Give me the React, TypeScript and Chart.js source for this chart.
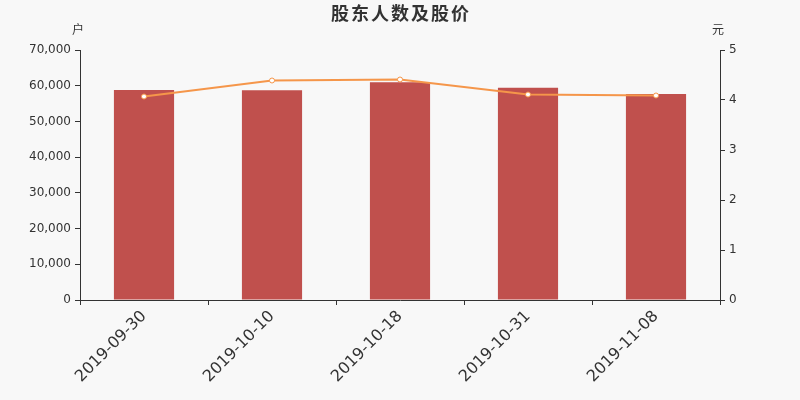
import { useEffect, useRef } from "react";
import Chart from "chart.js/auto";

const dates = ["2019-09-30", "2019-10-10", "2019-10-18", "2019-10-31", "2019-11-08"];
const holders = [58800, 58700, 61000, 59400, 57700];
const prices = [4.07, 4.39, 4.41, 4.11, 4.09];

const title = "股东人数及股价";
const leftUnit = "户";
const rightUnit = "元";

const font = "'DejaVu Sans', sans-serif";
const cjkFont = "'Noto Sans CJK SC', sans-serif";

const decorPlugin = {
    id: "decor",
    beforeDraw(chart: any) {
        const ctx = chart.ctx;
        ctx.save();
        ctx.fillStyle = "#f8f8f8";
        ctx.fillRect(0, 0, chart.width, chart.height);
        ctx.restore();
    },
    afterDraw(chart: any) {
        const ctx = chart.ctx;
        const area = chart.chartArea;
        ctx.save();
        ctx.fillStyle = "#333333";
        ctx.textAlign = "center";
        ctx.textBaseline = "middle";
        ctx.font = "bold 18px " + cjkFont;
        ctx.letterSpacing = "2px";
        ctx.fillText(title, (area.left + area.right) / 2 + 1, 13);
        ctx.letterSpacing = "0px";
        ctx.font = "12px " + cjkFont;
        ctx.fillText(leftUnit, area.left - 2, 29);
        ctx.fillText(rightUnit, area.right - 2, 29);
        ctx.restore();
    },
};

export default function App() {
    const canvasRef: any = useRef(null);

    useEffect(() => {
        if (!canvasRef.current) return;
        const ctx = canvasRef.current.getContext("2d");
        const chart = new Chart(ctx, {
            type: "bar",
            data: {
                labels: dates,
                datasets: [
                    {
                        type: "line",
                        label: "股价",
                        data: prices,
                        yAxisID: "y1",
                        borderColor: "#f5964a",
                        borderWidth: 2,
                        pointRadius: 2.5,
                        pointBackgroundColor: "#ffffff",
                        pointBorderColor: "#f5964a",
                        pointBorderWidth: 1,
                        tension: 0,
                        order: 0,
                    } as any,
                    {
                        type: "bar",
                        label: "股东人数",
                        data: holders,
                        yAxisID: "y",
                        backgroundColor: "#c0504d",
                        categoryPercentage: 1,
                        barPercentage: 0.47,
                        order: 1,
                    },
                ],
            },
            options: {
                responsive: false,
                animation: false,
                layout: { padding: { top: 50, left: 0, right: 0, bottom: 0 } },
                plugins: {
                    legend: { display: false },
                    title: { display: false },
                    tooltip: { enabled: false },
                },
                scales: {
                    x: {
                        offset: true,
                        grid: {
                            offset: true,
                            drawOnChartArea: false,
                            drawTicks: true,
                            tickLength: 5,
                            color: "#333333",
                        },
                        border: { color: "#333333" },
                        ticks: {
                            maxRotation: 45,
                            minRotation: 45,
                            color: "#333333",
                            font: { size: 16, family: font },
                            padding: 2,
                        },
                        afterFit: (scale: any) => {
                            scale.height = 100;
                        },
                    },
                    y: {
                        position: "left",
                        min: 0,
                        max: 70000,
                        grid: {
                            drawOnChartArea: false,
                            tickLength: 5,
                            color: "#333333",
                        },
                        border: { color: "#333333" },
                        ticks: {
                            stepSize: 10000,
                            color: "#333333",
                            padding: 4,
                            font: { size: 12, family: font },
                            callback: (v: any) => Number(v).toLocaleString("en-US"),
                        },
                        afterFit: (scale: any) => {
                            scale.width = 80;
                        },
                    },
                    y1: {
                        position: "right",
                        min: 0,
                        max: 5,
                        grid: {
                            drawOnChartArea: false,
                            tickLength: 5,
                            color: "#333333",
                        },
                        border: { color: "#333333" },
                        ticks: {
                            stepSize: 1,
                            color: "#333333",
                            padding: 4,
                            font: { size: 12, family: font },
                        },
                        afterFit: (scale: any) => {
                            scale.width = 80;
                        },
                    },
                },
            } as any,
            plugins: [decorPlugin],
        });

        return () => {
            chart.destroy();
        };
    }, []);

    return (
        <div style={{ position: "absolute", left: 0, top: 0, width: 800, height: 400, background: "#f8f8f8" }}>
            <canvas ref={canvasRef} width={800} height={400} />
        </div>
    );
}
